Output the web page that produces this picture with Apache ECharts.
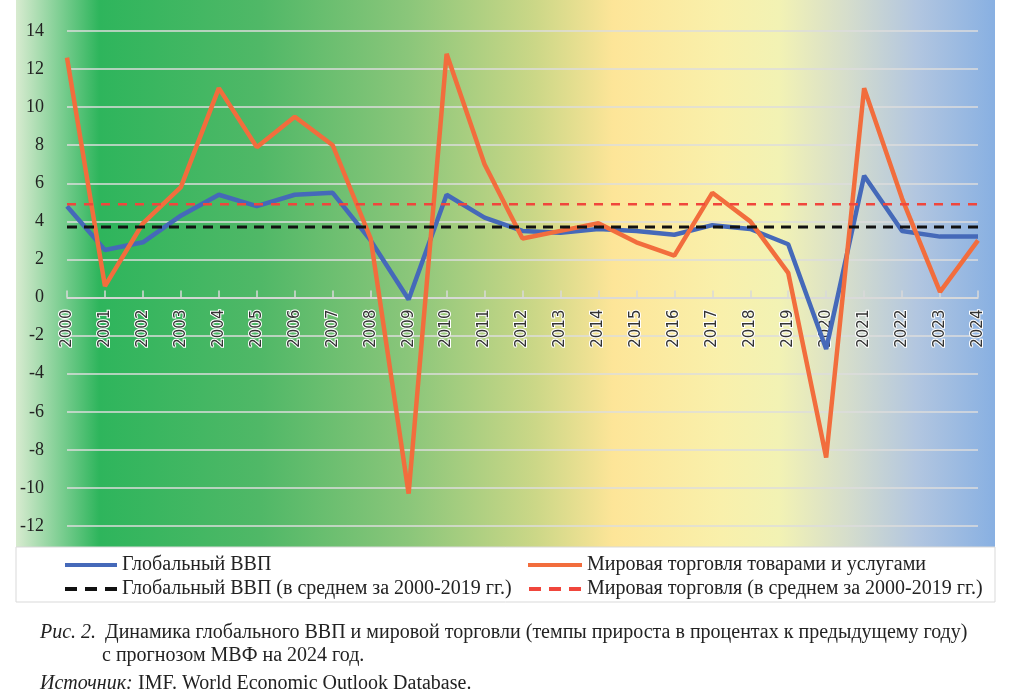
<!DOCTYPE html>
<html>
<head>
<meta charset="utf-8">
<script src="https://cdn.jsdelivr.net/npm/echarts@6/dist/echarts.min.js"></script>
<style>
  html, body { margin: 0; padding: 0; background: #fff; }
  #chart { width: 1024px; height: 699px; }
</style>
</head>
<body>
<div id="chart"></div>
<script>
var years = ["2000", "2001", "2002", "2003", "2004", "2005", "2006", "2007", "2008", "2009",
  "2010", "2011", "2012", "2013", "2014", "2015", "2016", "2017", "2018", "2019",
  "2020", "2021", "2022", "2023", "2024"];
// Глобальный ВВП, % г/г
var gdp = [4.8, 2.5, 2.9, 4.3, 5.4, 4.8, 5.4, 5.5, 3.0, -0.1,
  5.4, 4.2, 3.5, 3.4, 3.6, 3.5, 3.3, 3.8, 3.6, 2.8,
  -2.7, 6.4, 3.5, 3.2, 3.2];
// Мировая торговля товарами и услугами, % г/г
var trade = [12.6, 0.6, 3.9, 5.8, 11.0, 7.9, 9.5, 8.0, 3.1, -10.3,
  12.8, 7.0, 3.1, 3.5, 3.9, 2.9, 2.2, 5.5, 4.0, 1.3,
  -8.4, 11.0, 5.2, 0.3, 3.0];
// средние за 2000-2019 гг.
var gdpAvg = 3.7;
var tradeAvg = 4.9;
var yTicks = { min: -12, max: 14, interval: 2 };

var names = [
  "Глобальный ВВП",
  "Мировая торговля товарами и услугами",
  "Глобальный ВВП (в среднем за 2000-2019 гг.)",
  "Мировая торговля (в среднем за 2000-2019 гг.)"
];

var serif = "'Liberation Serif', 'Times New Roman', serif";
var first = years[0], last = years[years.length - 1];
var dashIcon = "path://M0,0h12v4h-12z M20,0h12v4h-12z M40,0h12v4h-12z";

// ось X проходит через ноль: сдвигаем её от нижнего края сетки
var gridTop = 31, gridBottom = 173, chartH = 699;
var plotH = chartH - gridTop - gridBottom;
var zeroOffset = -plotH * (0 - yTicks.min) / (yTicks.max - yTicks.min);

var chart = echarts.init(document.getElementById("chart"));
chart.setOption({
  animation: false,
  textStyle: { fontFamily: serif },
  grid: { left: 67, right: 46, top: gridTop, bottom: gridBottom, containLabel: false },
  graphic: [
    {
      type: "rect",
      z: -100,
      silent: true,
      shape: { x: 16, y: 0, width: 979, height: 547 },
      style: {
        fill: new echarts.graphic.LinearGradient(0, 0, 1, 0, [
          { offset: 0, color: "#d8ebd0" },
          { offset: 0.085, color: "#2eb55c" },
          { offset: 0.25, color: "#50b867" },
          { offset: 0.4, color: "#8ac67a" },
          { offset: 0.53, color: "#cbd787" },
          { offset: 0.61, color: "#fde598" },
          { offset: 0.72, color: "#f9f0ab" },
          { offset: 0.78, color: "#f2f2b4" },
          { offset: 0.85, color: "#d5ddcc" },
          { offset: 0.92, color: "#b2c6e0" },
          { offset: 1, color: "#88b0e2" }
        ])
      }
    },
    {
      type: "rect",
      z: -100,
      silent: true,
      shape: { x: 16, y: 547, width: 979, height: 55 },
      style: { fill: "#fff", stroke: "#d9d9d9", lineWidth: 1 }
    },
    {
      type: "text", left: 40, top: 623,
      style: { text: "Рис. 2.", font: "italic 20px " + serif, fill: "#222" }
    },
    {
      type: "text", left: 105, top: 623,
      style: { text: "Динамика глобального ВВП и мировой торговли (темпы прироста в процентах к предыдущему году)", font: "20px " + serif, fill: "#222" }
    },
    {
      type: "text", left: 102, top: 646,
      style: { text: "с прогнозом МВФ на 2024 год.", font: "20px " + serif, fill: "#222" }
    },
    {
      type: "text", left: 40, top: 674,
      style: { text: "Источник:", font: "italic 20px " + serif, fill: "#222" }
    },
    {
      type: "text", left: 138, top: 674,
      style: { text: "IMF. World Economic Outlook Database.", font: "20px " + serif, fill: "#222" }
    }
  ],
  legend: [
    {
      left: 60, top: 550, orient: "vertical", itemGap: 4,
      itemWidth: 52, itemHeight: 4,
      data: [
        { name: names[0], icon: "rect" },
        { name: names[2], icon: dashIcon }
      ],
      textStyle: { fontFamily: serif, fontSize: 20, color: "#222", lineHeight: 20 }
    },
    {
      left: 523, top: 550, orient: "vertical", itemGap: 4,
      itemWidth: 54, itemHeight: 4,
      data: [
        { name: names[1], icon: "rect" },
        { name: names[3], icon: dashIcon }
      ],
      textStyle: { fontFamily: serif, fontSize: 20, color: "#222", lineHeight: 20 }
    }
  ],
  xAxis: {
    type: "category",
    data: years,
    boundaryGap: false,
    position: "bottom",
    offset: zeroOffset,
    axisLine: { onZero: false, lineStyle: { color: "#d9d9d9", width: 1.5 } },
    axisTick: { inside: true, length: 7, alignWithLabel: true, lineStyle: { color: "#d9d9d9", width: 1.5 } },
    axisLabel: {
      interval: 0,
      rotate: 90,
      margin: 12,
      fontFamily: "'DejaVu Sans', sans-serif",
      fontSize: 15,
      color: "#333",
      textBorderColor: "#fff",
      textBorderWidth: 2
    },
    splitLine: { show: false }
  },
  yAxis: {
    type: "value",
    min: yTicks.min,
    max: yTicks.max,
    interval: yTicks.interval,
    axisLine: { show: false },
    axisTick: { show: false },
    axisLabel: { margin: 23, fontFamily: serif, fontSize: 18, color: "#222" },
    splitLine: { lineStyle: { color: "#dcdcdc", width: 1.5 } }
  },
  series: [
    {
      name: names[0],
      type: "line",
      data: gdp,
      symbol: "none",
      lineStyle: { color: "#4569b9", width: 4.5 },
      itemStyle: { color: "#4569b9" },
      z: 3
    },
    {
      name: names[1],
      type: "line",
      data: trade,
      symbol: "none",
      lineStyle: { color: "#f26d3d", width: 4.5 },
      itemStyle: { color: "#f26d3d" },
      z: 4
    },
    {
      name: names[2],
      type: "line",
      data: [[first, gdpAvg], [last, gdpAvg]],
      symbol: "none",
      lineStyle: { color: "#111", width: 3, type: [10, 7] },
      itemStyle: { color: "#111" },
      z: 5
    },
    {
      name: names[3],
      type: "line",
      data: [[first, tradeAvg], [last, tradeAvg]],
      symbol: "none",
      lineStyle: { color: "#f0463c", width: 2.5, type: [9, 8] },
      itemStyle: { color: "#f0463c" },
      z: 5
    }
  ]
});
window.addEventListener("resize", function () {
  chart.resize();
});
</script>
</body>
</html>
